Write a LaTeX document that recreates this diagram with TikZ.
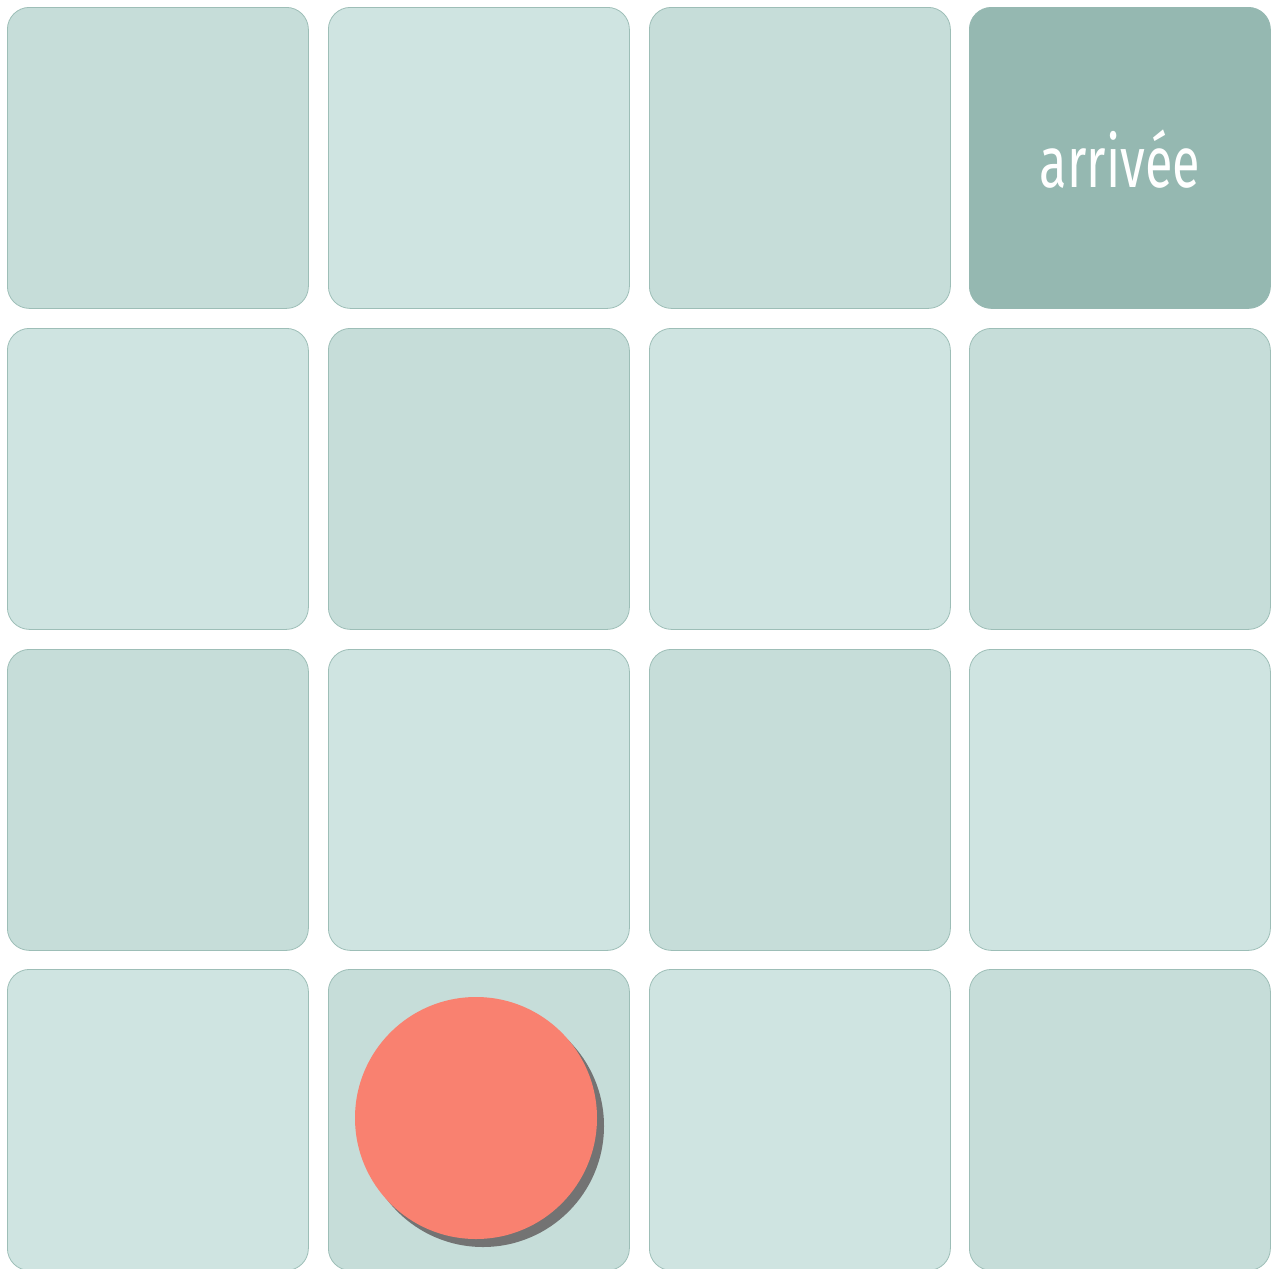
\documentclass[tikz,border=0pt]{standalone}
\usepackage{fontspec}
\newfontfamily\cellfont{Fira Sans}
\definecolor{cellA}{HTML}{C6DDD9}
\definecolor{cellB}{HTML}{CFE4E1}
\definecolor{cellGoal}{HTML}{95B8B1}
\definecolor{cellEdge}{HTML}{9DBEB7}
\definecolor{pawn}{HTML}{F98170}
\definecolor{pawnShadow}{HTML}{737373}
\begin{document}
\begin{tikzpicture}[x=1pt,y=-1pt,
  cellbox/.style={draw=cellEdge,line width=0.8pt,rounded corners=22pt,minimum width=301pt,minimum height=301pt,inner sep=0pt,anchor=north west},
  darkcell/.style={cellbox,fill=cellA},
  lightcell/.style={cellbox,fill=cellB},
  goalcell/.style={cellbox,fill=cellGoal,draw=cellGoal}]
\useasboundingbox (0,0) rectangle (1275,1269);
% row 1
\node[darkcell]  (c11) at (7,7) {};
\node[lightcell] (c12) at (328,7) {};
\node[darkcell]  (c13) at (649,7) {};
\node[goalcell]  (c14) at (969,7) {};
% row 2
\node[lightcell] (c21) at (7,328) {};
\node[darkcell]  (c22) at (328,328) {};
\node[lightcell] (c23) at (649,328) {};
\node[darkcell]  (c24) at (969,328) {};
% row 3
\node[darkcell]  (c31) at (7,649) {};
\node[lightcell] (c32) at (328,649) {};
\node[darkcell]  (c33) at (649,649) {};
\node[lightcell] (c34) at (969,649) {};
% row 4
\node[lightcell] (c41) at (7,969) {};
\node[darkcell]  (c42) at (328,969) {};
\node[lightcell] (c43) at (649,969) {};
\node[darkcell]  (c44) at (969,969) {};
% label
\node[text=white,inner sep=0pt] (goal) at (1120,159) {\scalebox{0.7}[1]{\cellfont\fontsize{72}{72}\selectfont arrivée}};
% pawn
\fill[pawnShadow] (483,1126) circle (121pt);
\node[circle,fill=pawn,minimum size=242pt,inner sep=0pt] (pawn) at (476,1118) {};
\end{tikzpicture}
\end{document}
